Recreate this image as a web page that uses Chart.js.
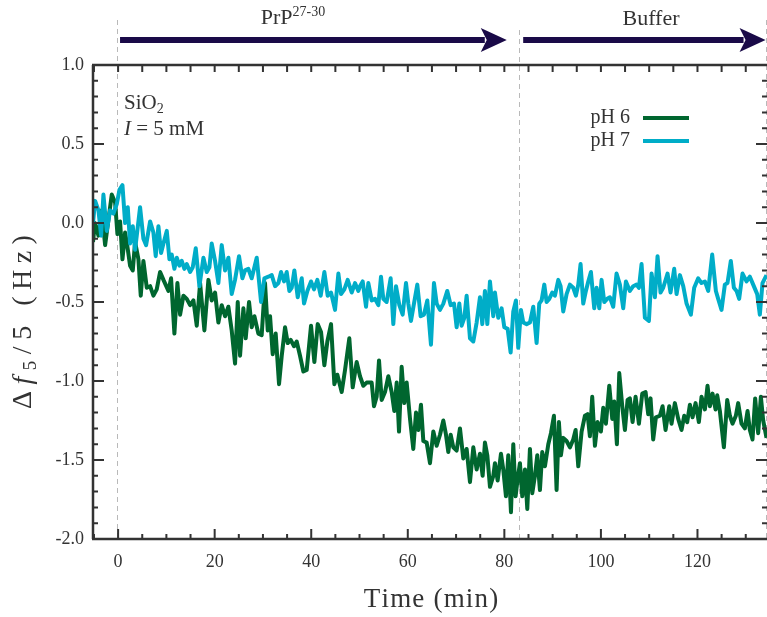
<!DOCTYPE html>
<html><head><meta charset="utf-8">
<script src="https://cdn.jsdelivr.net/npm/chart.js@4/dist/chart.umd.min.js"></script>
<style>html,body{margin:0;padding:0;background:#fff}canvas{display:block}</style>
</head><body>
<canvas id="c" width="767" height="617"></canvas>
<script>
// ---- data ----
const timePH6 = [-5.2,-4.8,-4.07,-3.38,-2.69,-2.0,-1.31,-0.62,-0.14,0.41,0.9,1.45,1.93,2.48,3.04,3.52,4.21,4.69,5.24,5.94,6.63,7.31,8.0,8.7,9.39,10.42,10.97,11.66,12.28,12.84,13.53,14.22,14.91,15.6,16.29,16.98,17.87,18.7,19.39,20.08,20.77,21.46,
22.15,22.84,23.53,24.22,24.78,25.26,25.95,26.43,27.12,27.67,28.23,29.05,29.74,30.43,30.99,31.47,32.02,32.64,33.33,33.89,34.58,35.13,35.75,36.44,36.99,37.68,38.37,39.06,39.96,40.65,41.34,42.03,42.72,43.34,44.1,44.79,45.41,46.31,47.0,47.89,48.59,49.41,
50.1,50.79,51.48,52.52,53.0,53.55,54.04,54.59,55.28,55.97,56.66,57.21,57.7,58.18,58.73,59.28,59.77,60.46,61.14,61.7,62.18,62.73,63.22,63.91,64.6,65.29,65.98,66.67,67.36,67.91,68.39,68.88,69.43,70.12,70.81,71.5,72.19,72.88,73.57,74.26,74.95,75.5,75.98,76.47,77.02,77.71,
78.05,78.61,79.3,79.78,80.33,80.81,81.37,81.85,82.33,82.75,83.23,83.71,84.27,84.75,85.3,85.78,86.34,86.82,87.37,87.85,88.41,89.1,89.65,90.27,90.82,91.3,91.72,92.2,92.89,93.58,94.27,94.76,95.31,96.0,96.69,97.24,97.72,98.2,98.76,99.31,100.0,100.48,101.04,101.73,102.35,102.76,103.31,103.8,104.42,104.97,105.52,
106.0,106.56,107.18,107.87,108.56,109.25,109.8,110.28,110.83,111.39,112.22,112.77,113.39,114.15,114.63,115.32,116.01,116.7,117.25,117.87,118.43,118.98,119.6,120.29,120.84,121.53,122.08,122.57,123.12,123.74,124.09,124.64,125.47,126.16,126.71,127.26,127.95,128.43,129.12,129.81,130.37,130.85,131.4,131.95,132.57,133.13,133.61,134.3];
const valuesPH6 = [-0.12,0.00,-0.08,0.08,-0.14,0.02,0.18,0.13,-0.07,0.01,-0.23,-0.06,-0.15,-0.27,-0.30,-0.12,-0.23,-0.46,-0.24,-0.41,-0.40,-0.46,-0.42,-0.31,-0.36,-0.43,-0.35,-0.70,-0.38,-0.58,-0.46,-0.48,-0.52,-0.49,-0.65,-0.38,-0.68,-0.36,-0.49,-0.44,-0.63,-0.52,
-0.59,-0.53,-0.68,-0.89,-0.50,-0.84,-0.54,-0.73,-0.50,-0.66,-0.59,-0.70,-0.71,-0.38,-0.68,-0.59,-0.83,-0.70,-1.02,-0.84,-0.66,-0.76,-0.74,-0.78,-0.75,-0.84,-0.94,-0.93,-0.65,-0.88,-0.64,-0.69,-0.90,-0.75,-0.64,-1.02,-0.96,-1.07,-0.93,-0.73,-1.04,-0.88,
-0.97,-1.03,-1.01,-1.01,-1.16,-1.10,-0.87,-1.12,-1.07,-0.97,-1.07,-1.19,-1.01,-1.32,-0.91,-1.14,-1.01,-1.24,-1.43,-1.20,-1.31,-1.15,-1.38,-1.39,-1.52,-1.32,-1.41,-1.34,-1.25,-1.34,-1.45,-1.34,-1.42,-1.44,-1.30,-1.49,-1.43,-1.64,-1.42,-1.56,-1.46,-1.60,-1.39,-1.47,-1.67,-1.60,
-1.52,-1.63,-1.46,-1.56,-1.73,-1.47,-1.83,-1.40,-1.73,-1.62,-1.52,-1.73,-1.56,-1.81,-1.43,-1.71,-1.60,-1.47,-1.69,-1.45,-1.54,-1.40,-1.33,-1.22,-1.69,-1.26,-1.47,-1.36,-1.38,-1.42,-1.37,-1.31,-1.54,-1.32,-1.22,-1.21,-1.35,-1.10,-1.41,-1.26,-1.32,-1.17,-1.27,-1.03,-1.24,-1.13,-1.40,-0.95,-1.16,-1.31,-1.12,
-1.11,-1.26,-1.10,-1.27,-1.08,-1.07,-1.21,-1.11,-1.37,-1.23,-1.22,-1.16,-1.31,-1.16,-1.27,-1.14,-1.24,-1.31,-1.22,-1.26,-1.15,-1.23,-1.14,-1.26,-1.10,-1.18,-1.03,-1.16,-1.08,-1.18,-1.09,-1.19,-1.42,-1.12,-1.22,-1.27,-1.22,-1.14,-1.27,-1.30,-1.19,-1.31,-1.37,-1.11,-1.33,-1.10,-1.25,-1.36];

const timePH7 = [-5.2,-4.76,-4.07,-3.52,-3.04,-2.35,-1.66,-0.97,-0.28,0.28,0.9,1.45,2.0,2.48,3.04,3.52,4.55,5.24,5.8,6.63,7.31,7.79,8.35,8.9,9.39,10.08,10.63,11.11,11.66,12.15,12.7,13.18,13.73,14.22,14.91,15.46,16.08,16.84,17.67,18.36,18.91,19.39,20.08,20.77,21.46,
22.15,22.84,23.53,24.22,25.05,25.74,26.29,26.98,27.67,28.71,29.61,30.3,31.12,31.82,32.51,33.2,33.75,34.37,34.92,35.47,35.96,36.51,37.2,38.03,38.51,39.2,39.96,40.58,41.27,41.96,42.72,43.41,44.1,44.93,45.62,46.17,46.86,47.55,48.38,49.07,49.76,
50.1,50.66,51.35,51.83,52.52,53.21,53.9,54.45,54.93,55.62,56.45,57.0,57.56,58.25,58.94,59.63,60.11,60.66,61.28,61.97,62.66,63.35,64.04,64.8,65.42,65.98,66.67,67.36,68.18,68.88,69.57,70.12,70.67,71.15,71.71,72.19,72.88,73.57,74.26,74.95,75.43,75.98,76.47,77.02,77.71,
78.05,78.74,79.43,79.99,80.68,81.3,81.85,82.4,82.88,83.44,83.92,84.61,85.3,85.99,86.68,87.23,87.72,88.27,88.75,89.3,89.92,90.48,91.17,91.65,92.2,92.89,93.58,94.27,94.82,95.31,95.79,96.34,96.89,97.38,97.93,98.62,99.1,99.66,100.14,100.69,101.31,101.86,102.55,103.24,103.93,104.62,105.18,
106.0,106.69,107.38,107.87,108.42,109.11,109.94,110.49,111.18,111.73,112.35,112.9,113.8,114.42,115.18,115.67,116.36,117.05,117.74,118.63,119.32,120.15,120.84,121.53,122.22,123.05,123.81,124.29,124.98,125.67,126.22,126.91,127.54,128.09,128.64,129.33,130.16,130.85,131.54,132.37,132.92,133.47,134.3];
const valuesPH7 = [0.00,0.14,0.08,-0.08,0.18,-0.05,0.08,0.06,0.12,0.21,0.24,0.00,0.10,-0.13,-0.02,-0.17,0.10,-0.10,-0.14,0.01,-0.06,-0.21,-0.02,-0.19,-0.13,-0.05,-0.23,-0.20,-0.29,-0.22,-0.27,-0.24,-0.29,-0.26,-0.31,-0.28,-0.16,-0.40,-0.22,-0.31,-0.28,-0.13,-0.24,-0.38,-0.14,
-0.30,-0.22,-0.45,-0.36,-0.21,-0.35,-0.30,-0.29,-0.35,-0.22,-0.50,-0.35,-0.34,-0.33,-0.40,-0.38,-0.31,-0.37,-0.31,-0.43,-0.41,-0.30,-0.47,-0.35,-0.51,-0.43,-0.37,-0.42,-0.36,-0.46,-0.31,-0.46,-0.44,-0.55,-0.32,-0.45,-0.42,-0.36,-0.44,-0.38,-0.43,
-0.40,-0.37,-0.53,-0.38,-0.49,-0.48,-0.52,-0.34,-0.48,-0.50,-0.35,-0.64,-0.40,-0.52,-0.58,-0.38,-0.51,-0.62,-0.51,-0.39,-0.59,-0.58,-0.49,-0.77,-0.38,-0.51,-0.55,-0.51,-0.43,-0.52,-0.51,-0.66,-0.51,-0.65,-0.60,-0.46,-0.73,-0.75,-0.63,-0.47,-0.64,-0.43,-0.64,-0.37,-0.59,
-0.44,-0.60,-0.54,-0.66,-0.67,-0.82,-0.56,-0.49,-0.79,-0.55,-0.63,-0.64,-0.63,-0.53,-0.76,-0.51,-0.49,-0.39,-0.50,-0.48,-0.44,-0.46,-0.36,-0.40,-0.56,-0.45,-0.39,-0.41,-0.46,-0.39,-0.26,-0.51,-0.43,-0.37,-0.31,-0.54,-0.41,-0.54,-0.36,-0.50,-0.48,-0.47,-0.53,-0.32,-0.39,-0.54,-0.37,
-0.43,-0.40,-0.39,-0.41,-0.26,-0.60,-0.62,-0.32,-0.47,-0.21,-0.44,-0.41,-0.32,-0.44,-0.29,-0.45,-0.33,-0.40,-0.51,-0.58,-0.41,-0.35,-0.38,-0.37,-0.43,-0.20,-0.43,-0.48,-0.55,-0.39,-0.38,-0.24,-0.41,-0.43,-0.48,-0.32,-0.37,-0.34,-0.39,-0.45,-0.58,-0.38,-0.33];

const seriesLabels = ['pH 6', 'pH 7'];
const xTickValues = [0, 20, 40, 60, 80, 100, 120];
const yTickValues = [-2.0, -1.5, -1.0, -0.5, 0.0, 0.5, 1.0];
const phaseNames = ['PrP', 'Buffer'];
const phaseStarts = [0, 83.2];       // min
const phaseEnd = 134.3;              // min
const xRange = [-5.2, 134.4];
const yRange = [-2.0, 1.0];

// ---- styling ----
const SERIF = "'Liberation Serif','Times New Roman',serif";
const GREEN = '#00662f';
const CYAN = '#00adc8';
const NAVY = '#1a0a48';
const INK = '#333333';

function pairs(ts, vs){ return ts.map((t,i)=>({x:t, y:vs[i]})); }

// draws text segments one after another; sp = extra spacing between glyphs
function richText(ctx, segs, x, y, align, sp){
  sp = sp || 0;
  let total = 0;
  segs.forEach(s=>{
    ctx.font = s.font;
    s.ws = Array.from(s.text).map(ch => ctx.measureText(ch).width + sp);
    s.w = s.ws.reduce((p,c)=>p+c, 0);
    total += s.w;
  });
  total -= sp;
  let cx = align === 'center' ? x - total/2 : (align === 'right' ? x - total : x);
  segs.forEach(s=>{
    ctx.font = s.font;
    if (sp === 0){ ctx.fillText(s.text, cx, y + (s.dy||0)); cx += s.w; }
    else Array.from(s.text).forEach((ch,k)=>{ ctx.fillText(ch, cx, y + (s.dy||0)); cx += s.ws[k]; });
  });
}

const decor = {
  id: 'decor',
  beforeDatasetsDraw(chart){
    const {ctx, chartArea:a, scales:{x}} = chart;
    ctx.save();
    ctx.strokeStyle = '#b9b9b9'; ctx.lineWidth = 1; ctx.setLineDash([5,4]);
    const tops = [20, 30, 20];
    [...phaseStarts, phaseEnd].forEach((t,i)=>{
      const px = Math.round(x.getPixelForValue(t)) - 0.5;
      ctx.beginPath(); ctx.moveTo(px, tops[i]); ctx.lineTo(px, a.bottom); ctx.stroke();
    });
    ctx.restore();
  },
  afterDatasetsDraw(chart){
    const {ctx, chartArea:a, scales:{x,y}} = chart;
    ctx.save();
    // frame
    ctx.strokeStyle = INK; ctx.lineWidth = 2.5; ctx.setLineDash([]);
    ctx.beginPath();
    ctx.moveTo(a.left, a.top); ctx.lineTo(a.left, a.bottom);
    ctx.moveTo(a.left - 1, a.top); ctx.lineTo(a.right + 2, a.top);
    ctx.moveTo(a.left - 1, a.bottom); ctx.lineTo(a.right + 2, a.bottom);
    ctx.stroke();
    // ticks
    ctx.lineWidth = 2;
    ctx.beginPath();
    for (let t = -5; t <= 134; t += 5){
      const px = x.getPixelForValue(t);
      const major = Math.abs(t % 20) < 1e-6;
      const L = major ? 10 : 5;
      ctx.moveTo(px, a.bottom); ctx.lineTo(px, a.bottom - L);
      ctx.moveTo(px, a.top); ctx.lineTo(px, a.top + 7);
    }
    for (let i = -20; i <= 10; i++){
      const v = i/10;
      const py = y.getPixelForValue(v);
      const major = (i % 5) === 0;
      const L = major ? 11 : 5;
      ctx.moveTo(a.left, py); ctx.lineTo(a.left + L, py);
      ctx.moveTo(a.right, py); ctx.lineTo(a.right - L, py);
    }
    ctx.stroke();

    // phase arrows
    ctx.fillStyle = NAVY; ctx.strokeStyle = NAVY;
    const arrowY = 40;
    const arrows = [[0.4, 80.5], [83.9, 134.1]];
    arrows.forEach(([t0,t1])=>{
      const x0 = x.getPixelForValue(t0), x1 = x.getPixelForValue(t1);
      const head = 26, half = 12;
      ctx.fillRect(x0, arrowY - 3, (x1 - head + 4) - x0, 6);
      ctx.beginPath(); ctx.moveTo(x1, arrowY); ctx.lineTo(x1 - head, arrowY - half);
      ctx.lineTo(x1 - head + 6, arrowY); ctx.lineTo(x1 - head, arrowY + half); ctx.closePath(); ctx.fill();
    });

    // phase labels
    ctx.fillStyle = INK; ctx.textBaseline = 'middle';
    const mid0 = (x.getPixelForValue(phaseStarts[0]) + x.getPixelForValue(phaseStarts[1]))/2;
    const mid1 = (x.getPixelForValue(phaseStarts[1]) + x.getPixelForValue(phaseEnd))/2;
    richText(ctx, [
      {text: phaseNames[0], font: `22px ${SERIF}`},
      {text: '27-30', font: `14px ${SERIF}`, dy: -6}
    ], mid0 - 26, 18, 'center');
    richText(ctx, [{text: phaseNames[1], font: `22px ${SERIF}`}], mid1 + 8, 19, 'center');

    // substrate annotation
    richText(ctx, [
      {text: 'SiO', font: `21px ${SERIF}`},
      {text: '2', font: `14px ${SERIF}`, dy: 6}
    ], 124, 103, 'left');
    richText(ctx, [
      {text: 'I', font: `italic 21px ${SERIF}`},
      {text: ' = 5 mM', font: `21px ${SERIF}`}
    ], 124, 129, 'left');

    // legend
    const ds = chart.data.datasets;
    [0,1].forEach(i=>{
      const ly = 118 + i*23;
      ctx.font = `20px ${SERIF}`; ctx.textAlign = 'right'; ctx.fillStyle = INK;
      ctx.fillText(seriesLabels[i], 630, ly);
      ctx.strokeStyle = ds[i].borderColor; ctx.lineWidth = 4;
      ctx.beginPath(); ctx.moveTo(643, ly); ctx.lineTo(689, ly); ctx.stroke();
    });
    ctx.textAlign = 'left';

    // axis titles
    ctx.fillStyle = INK;
    richText(ctx, [{text: 'Time (min)', font: `27px ${SERIF}`}], (a.left + a.right)/2 + 1, 600, 'center', 1.2);
    ctx.translate(24, 322);
    ctx.rotate(-Math.PI/2);
    richText(ctx, [
      {text: 'Δ', font: `28px ${SERIF}`},
      {text: 'f', font: `italic 28px ${SERIF}`},
      {text: '5', font: `19px ${SERIF}`, dy: 7},
      {text: '/5 (Hz)', font: `28px ${SERIF}`}
    ], 0, 0, 'center', 6.5);
    ctx.restore();
  }
};

new Chart(document.getElementById('c').getContext('2d'), {
  type: 'line',
  data: {
    datasets: [
      {label: seriesLabels[0], data: pairs(timePH6, valuesPH6), borderColor: GREEN, borderWidth: 4,
       pointRadius: 0, tension: 0, fill: false, borderJoinStyle: 'round', order: 1},
      {label: seriesLabels[1], data: pairs(timePH7, valuesPH7), borderColor: CYAN, borderWidth: 4,
       pointRadius: 0, tension: 0, fill: false, borderJoinStyle: 'round', order: 0}
    ]
  },
  options: {
    responsive: false, animation: false, devicePixelRatio: 1,
    layout: {padding: {top: 65, left: 0, right: 0, bottom: 0}},
    plugins: {legend: {display: false}, tooltip: {enabled: false}, title: {display: false}},
    scales: {
      x: {
        type: 'linear', min: xRange[0], max: xRange[1],
        grid: {display: false, drawTicks: false}, border: {display: false},
        afterBuildTicks: s => { s.ticks = xTickValues.map(v => ({value: v})); },
        afterFit: s => { s.height = 78; },
        ticks: {font: {family: SERIF, size: 18}, color: INK, padding: 12, maxRotation: 0, autoSkip: false,
                callback: v => String(v)}
      },
      y: {
        type: 'linear', min: yRange[0], max: yRange[1],
        grid: {display: false, drawTicks: false}, border: {display: false},
        afterBuildTicks: s => { s.ticks = yTickValues.map(v => ({value: v})); },
        afterFit: s => { s.width = 93; },
        ticks: {font: {family: SERIF, size: 18}, color: INK, padding: 9, autoSkip: false,
                callback: v => Number(v).toFixed(1)}
      }
    }
  },
  plugins: [decor]
});
</script>
</body></html>
